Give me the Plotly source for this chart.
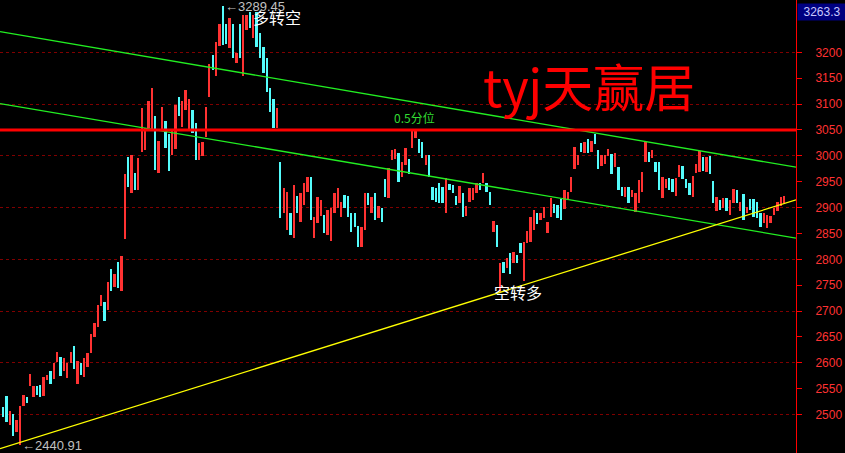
import plotly.graph_objects as go

# ---- data (prices) ----
highs = [2515, 2536, 2507, 2502, 2489, 2517, 2538, 2534, 2578, 2556,
         2556, 2557, 2573, 2576, 2584, 2599, 2620, 2611, 2610, 2600,
         2620, 2633, 2603, 2599, 2609, 2619, 2655, 2676, 2712, 2731,
         2718, 2757, 2781, 2771, 2794, 2806, 2964, 2998, 3001, 2966,
         2995, 3093, 3054, 3106, 3132, 3077, 3029, 3095, 3067, 3042,
         3051, 3098, 3113, 3105, 3127, 3109, 3088, 3064, 3025, 3027,
         3095, 3177, 3195, 3220, 3255, 3289, 3255, 3266, 3255, 3199,
         3255, 3272, 3272, 3278, 3272, 3278, 3237, 3210, 3189, 3131,
         3110, 3092, 2988, 2938, 2930, 2889, 2944, 2922, 2928, 2947,
         2959, 2959, 2882, 2920, 2915, 2886, 2895, 2899, 2928, 2938,
         2911, 2924, 2922, 2889, 2889, 2864, 2862, 2928, 2928, 2920,
         2928, 2903, 2899, 2955, 2977, 3011, 3013, 3006, 2989, 3015,
         2994, 3048, 3048, 3032, 3027, 3001, 3001, 2940, 2938, 2948,
         2940, 2958, 2945, 2944, 2922, 2942, 2928, 2903, 2937, 2937,
         2948, 2948, 2967, 2947, 2931, 2875, 2866, 2793, 2795, 2802,
         2812, 2815, 2808, 2832, 2834, 2855, 2882, 2895, 2889, 2889,
         2902, 2873, 2918, 2907, 2905, 2916, 2933, 2931, 2960, 3018,
         3001, 3024, 3027, 3032, 3029, 3043, 3011, 3001, 3001, 3013,
         3003, 3005, 2978, 2939, 2939, 2939, 2934, 2928, 2953, 2969,
         3027, 3008, 3011, 2989, 2989, 2960, 2955, 2958, 2955, 2958,
         2982, 2980, 2955, 2948, 2961, 2985, 3010, 2997, 2998, 3000,
         2952, 2921, 2915, 2918, 2918, 2915, 2935, 2933, 2911, 2926,
         2902, 2916, 2916, 2911, 2890, 2889, 2886, 2884, 2900, 2911,
         2920, 2922]
lows = [2496, 2486, 2480, 2458, 2467, 2441, 2517, 2523, 2556, 2534,
        2538, 2534, 2536, 2567, 2560, 2568, 2601, 2575, 2585, 2571,
        2599, 2589, 2560, 2576, 2573, 2592, 2618, 2650, 2669, 2710,
        2681, 2702, 2739, 2747, 2744, 2739, 2839, 2940, 2928, 2933,
        2933, 3008, 3011, 3054, 3048, 2972, 2966, 3050, 3016, 2971,
        3001, 3013, 3077, 3055, 3088, 3052, 3045, 2991, 2991, 3000,
        3036, 3114, 3166, 3154, 3213, 3214, 3216, 3208, 3189, 3179,
        3189, 3154, 3243, 3247, 3228, 3210, 3189, 3160, 3123, 3085,
        3054, 3054, 2880, 2889, 2857, 2847, 2841, 2889, 2872, 2905,
        2930, 2876, 2841, 2870, 2884, 2851, 2847, 2835, 2889, 2899,
        2882, 2899, 2882, 2853, 2862, 2824, 2824, 2857, 2905, 2889,
        2876, 2880, 2872, 2920, 2918, 2991, 2994, 2950, 2960, 2982,
        2965, 3016, 3034, 3006, 2995, 2982, 2960, 2915, 2911, 2909,
        2909, 2889, 2933, 2928, 2904, 2909, 2882, 2884, 2910, 2915,
        2928, 2934, 2948, 2931, 2904, 2853, 2824, 2737, 2773, 2783,
        2772, 2792, 2793, 2812, 2758, 2832, 2834, 2857, 2868, 2876,
        2879, 2851, 2881, 2889, 2879, 2876, 2897, 2916, 2931, 2974,
        2982, 3008, 3006, 3006, 3008, 3022, 2974, 2980, 2984, 3000,
        2965, 2978, 2934, 2922, 2920, 2909, 2920, 2892, 2909, 2931,
        2989, 2989, 2995, 2969, 2934, 2918, 2937, 2934, 2931, 2922,
        2960, 2956, 2937, 2924, 2920, 2966, 2969, 2971, 2969, 2965,
        2909, 2894, 2895, 2899, 2894, 2886, 2908, 2909, 2894, 2876,
        2889, 2895, 2882, 2879, 2862, 2871, 2860, 2871, 2886, 2894,
        2903, 2908]
# 1 = rising (red), 0 = falling (cyan)
rising = [0, 0, 1, 0, 1, 1, 1, 0, 1, 1, 0, 0, 1, 1, 0, 1, 1, 0, 1, 1,
          1, 0, 1, 0, 1, 1, 1, 1, 1, 1, 0, 1, 0, 1, 0, 1, 1, 0, 1, 0,
          1, 1, 1, 1, 1, 0, 1, 1, 0, 0, 1, 1, 0, 1, 1, 1, 0, 0, 1, 1,
          1, 1, 0, 1, 1, 0, 0, 1, 0, 1, 0, 1, 1, 0, 1, 0, 0, 0, 0, 0,
          0, 1, 0, 1, 1, 0, 1, 0, 1, 1, 1, 0, 1, 1, 1, 0, 1, 1, 1, 1,
          1, 0, 0, 0, 0, 0, 1, 1, 0, 1, 0, 1, 0, 0, 1, 1, 1, 0, 1, 1,
          0, 1, 1, 0, 0, 1, 0, 0, 0, 0, 0, 1, 0, 0, 0, 1, 0, 1, 1, 1,
          1, 0, 1, 0, 0, 1, 0, 1, 0, 1, 0, 1, 0, 0, 1, 1, 1, 1, 0, 1,
          1, 1, 1, 0, 0, 0, 1, 1, 1, 1, 1, 0, 1, 0, 1, 0, 0, 1, 1, 1,
          0, 1, 0, 0, 1, 0, 1, 1, 1, 1, 1, 0, 1, 0, 0, 1, 1, 0, 0, 1,
          1, 0, 0, 0, 1, 1, 1, 0, 1, 0, 0, 1, 0, 1, 0, 1, 1, 0, 1, 0,
          1, 0, 0, 0, 0, 1, 1, 1, 1, 1, 1, 1]

# trend lines: (start index, start price, end index, end price)
upper_channel = [0.02, 3240, 235.45, 2978]
lower_channel = [0.02, 3101, 235.45, 2841]
support_line = [0.02, 2434, 235.45, 2915]
half_level = 3050

y_ticks = [3200, 3150, 3100, 3050, 3000, 2950, 2900, 2850, 2800, 2750,
           2700, 2650, 2600, 2550, 2500]
grid_levels = [3200, 3100, 3000, 2900, 2800, 2700, 2600, 2500]

n = len(highs)
idx = list(range(1, n + 1))

RED = "#ff3232"
CYAN = "#54fcfc"

fig = go.Figure()

up_x = [i for i, r in zip(idx, rising) if r]
up_lo = [l for l, r in zip(lows, rising) if r]
up_h = [h - l for h, l, r in zip(highs, lows, rising) if r]
dn_x = [i for i, r in zip(idx, rising) if not r]
dn_lo = [l for l, r in zip(lows, rising) if not r]
dn_h = [h - l for h, l, r in zip(highs, lows, rising) if not r]

fig.add_trace(go.Bar(x=up_x, y=up_h, base=up_lo, width=0.55,
                     marker=dict(color=RED, line=dict(width=0)), showlegend=False))
fig.add_trace(go.Bar(x=dn_x, y=dn_h, base=dn_lo, width=0.55,
                     marker=dict(color=CYAN, line=dict(width=0)), showlegend=False))

# grid on a hidden overlay axis (every 100)
fig.add_trace(go.Scatter(x=[idx[0]], y=[grid_levels[0]], yaxis="y2",
                         mode="markers", marker=dict(opacity=0), showlegend=False,
                         hoverinfo="skip"))

# lines
for ln, col, w in [(upper_channel, "#22ee22", 1.3), (lower_channel, "#22ee22", 1.3),
                   (support_line, "#ffff00", 1.3)]:
    fig.add_trace(go.Scatter(x=[ln[0], ln[2]], y=[ln[1], ln[3]], mode="lines",
                             line=dict(color=col, width=w), showlegend=False))
fig.add_trace(go.Scatter(x=[0.02, 235.45], y=[half_level, half_level], mode="lines",
                         line=dict(color="#ff0000", width=3), showlegend=False))

y_range = [2425.7, 3301.1]
fig.update_layout(
    width=845, height=453,
    margin=dict(l=0, r=49, t=0, b=0),
    paper_bgcolor="black", plot_bgcolor="black",
    barmode="overlay", bargap=0,
    xaxis=dict(range=[0.02, 235.45], showgrid=False, zeroline=False,
               showticklabels=False, ticks="", showline=False),
    yaxis=dict(range=y_range, side="right", tickvals=y_ticks,
               ticktext=[str(v) for v in y_ticks],
               tickfont=dict(family="Liberation Sans", size=12, color=RED),
               ticks="outside", ticklen=5, tickcolor="#ff0000",
               ticklabelstandoff=11,
               showline=True, linecolor="#ff0000", linewidth=1,
               showgrid=False, zeroline=False),
    yaxis2=dict(range=y_range, overlaying="y", side="right", tickvals=grid_levels,
                showticklabels=False, ticks="", showgrid=True,
                gridcolor="#800000", griddash="dot", gridwidth=1, zeroline=False),
    font=dict(family="Liberation Sans"),
)

ann = []
ann.append(dict(x=174.3, y=3137, text="tyj天赢居", showarrow=False,
                font=dict(family="Noto Sans CJK SC", size=51, color="#ff0000")))
ann.append(dict(x=122.7, y=3075, text="0.5分位", showarrow=False,
                font=dict(family="Noto Sans CJK SC", size=12, color="#33dd33")))
ann.append(dict(x=66, y=3289, text="←3289.45", showarrow=False, xanchor="left",
                yanchor="middle", font=dict(family="Liberation Sans", size=13, color="#c0c0c0")))
ann.append(dict(x=82, y=3268, text="多转空", showarrow=False,
                font=dict(family="Noto Sans CJK SC", size=16, color="white")))
ann.append(dict(x=153.2, y=2737, text="空转多", showarrow=False,
                font=dict(family="Noto Sans CJK SC", size=16, color="white")))
ann.append(dict(x=6, y=2441, text="←2440.91", showarrow=False, xanchor="left",
                yanchor="middle", font=dict(family="Liberation Sans", size=13, color="#c0c0c0")))
ann.append(dict(xref="paper", yref="paper", x=1.0, y=1 - 3 / 453, xanchor="left",
                yanchor="top", text="3263.3", showarrow=False, xshift=1,
                bgcolor="#000080", borderpad=1, width=46,
                font=dict(family="Liberation Sans", size=12, color="#c8c8ff")))
fig.update_layout(annotations=ann)

fig.write_html("out.html", config={"displayModeBar": False},
               post_script="document.body.style.margin='0';")
